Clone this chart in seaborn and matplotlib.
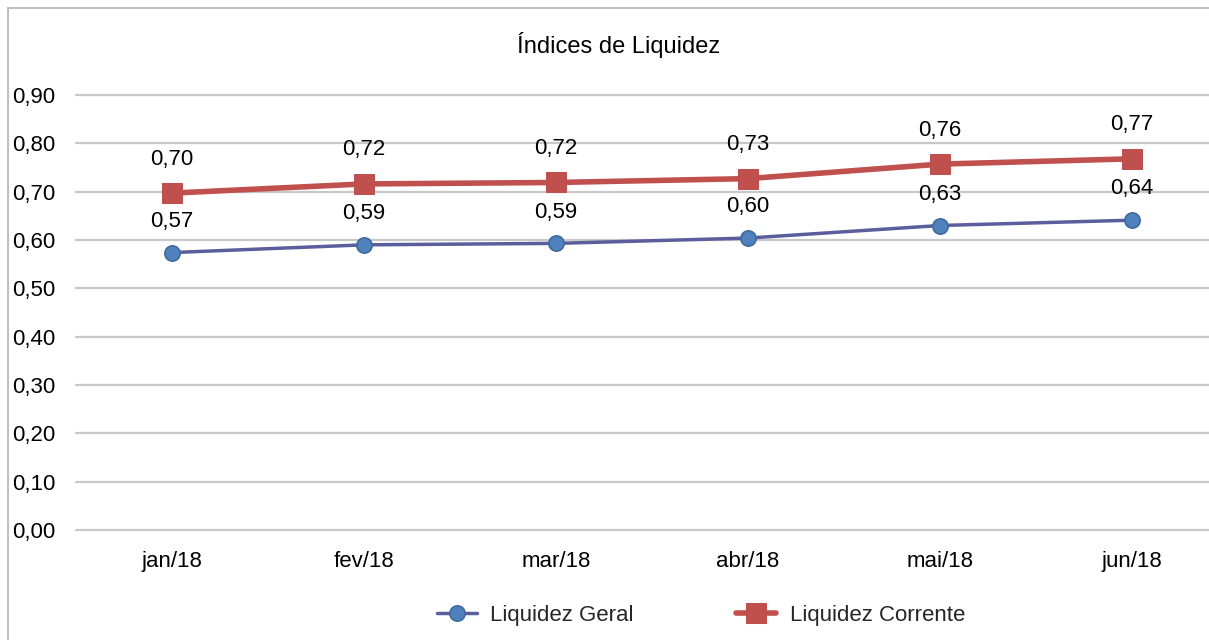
import matplotlib.pyplot as plt
from matplotlib.patches import Rectangle
import seaborn as sns
import pandas as pd

# ---- data ----
meses = ["jan/18", "fev/18", "mar/18", "abr/18", "mai/18", "jun/18"]
liq_geral = [0.574, 0.590, 0.593, 0.604, 0.630, 0.641]
liq_corrente = [0.697, 0.716, 0.719, 0.727, 0.757, 0.768]
y_ticks = [0.0, 0.1, 0.2, 0.3, 0.4, 0.5, 0.6, 0.7, 0.8, 0.9]

sns.set_style("white")
plt.rcParams["font.family"] = ["Liberation Sans", "DejaVu Sans"]

GERAL_LINE = "#5A5E9C"
GERAL_MK = "#4F81BD"
CORR = "#C0504D"
GRID = "#C8C8C8"
TXT = "#000000"
FS = 16

df = pd.DataFrame({"mes": meses, "geral": liq_geral, "corrente": liq_corrente})

fig = plt.figure(figsize=(12.09, 6.4), dpi=100, facecolor="white")
ax = fig.add_axes([76 / 1209, 110 / 640, 1152 / 1209, 435 / 640])

# outer chart border (Excel-style frame, cropped on the right/bottom)
fig.patches.append(Rectangle((8 / 1209, -0.05), 1.2, 632 / 640 + 0.05,
                             transform=fig.transFigure, fill=False,
                             edgecolor="#BFBFBF", linewidth=1.5))

sns.lineplot(data=df, x="mes", y="geral", ax=ax, color=GERAL_LINE, linewidth=2.5,
             marker="o", markersize=11, markerfacecolor=GERAL_MK,
             markeredgecolor="#3F6A9E", markeredgewidth=1.2,
             label="Liquidez Geral", zorder=3)
sns.lineplot(data=df, x="mes", y="corrente", ax=ax, color=CORR, linewidth=4,
             marker="s", markersize=14, markerfacecolor=CORR,
             markeredgecolor=CORR, label="Liquidez Corrente", zorder=4)

for i, (g, c) in enumerate(zip(liq_geral, liq_corrente)):
    ax.annotate(f"{g:.2f}".replace(".", ","), (i, g), xytext=(0, 15),
                textcoords="offset points", ha="center", va="bottom",
                fontsize=FS, color=TXT)
    ax.annotate(f"{c:.2f}".replace(".", ","), (i, c), xytext=(0, 17),
                textcoords="offset points", ha="center", va="bottom",
                fontsize=FS, color=TXT)

ax.set_xlim(-0.5, 5.5)
ax.set_ylim(0, 0.9)
ax.set_yticks(y_ticks)
ax.set_yticklabels([f"{v:.2f}".replace(".", ",") for v in y_ticks])
ax.grid(axis="y", color=GRID, linewidth=1.6)
ax.grid(axis="x", visible=False)
for gl in ax.get_ygridlines():
    gl.set_clip_on(False)
ax.set_axisbelow(True)
ax.tick_params(axis="both", length=0, labelsize=FS, colors=TXT)
ax.tick_params(axis="y", pad=46)
ax.tick_params(axis="x", pad=15)
for lab in ax.get_yticklabels():
    lab.set_ha("left")
for s in ax.spines.values():
    s.set_visible(False)
ax.set_xlabel("")
ax.set_ylabel("")

ax.legend_.remove()
handles, labels = ax.get_legend_handles_labels()
fig.legend(handles, labels, loc="center", bbox_to_anchor=(701 / 1209, 1 - 615 / 640),
           ncol=2, frameon=False, fontsize=FS, columnspacing=4.6,
           handlelength=1.8, handletextpad=0.6)

fig.text(619 / 1209, 1 - 45 / 640, "Índices de Liquidez", ha="center", va="center",
         fontsize=17, color=TXT)

fig.savefig("out.png", dpi=100, facecolor="white")
